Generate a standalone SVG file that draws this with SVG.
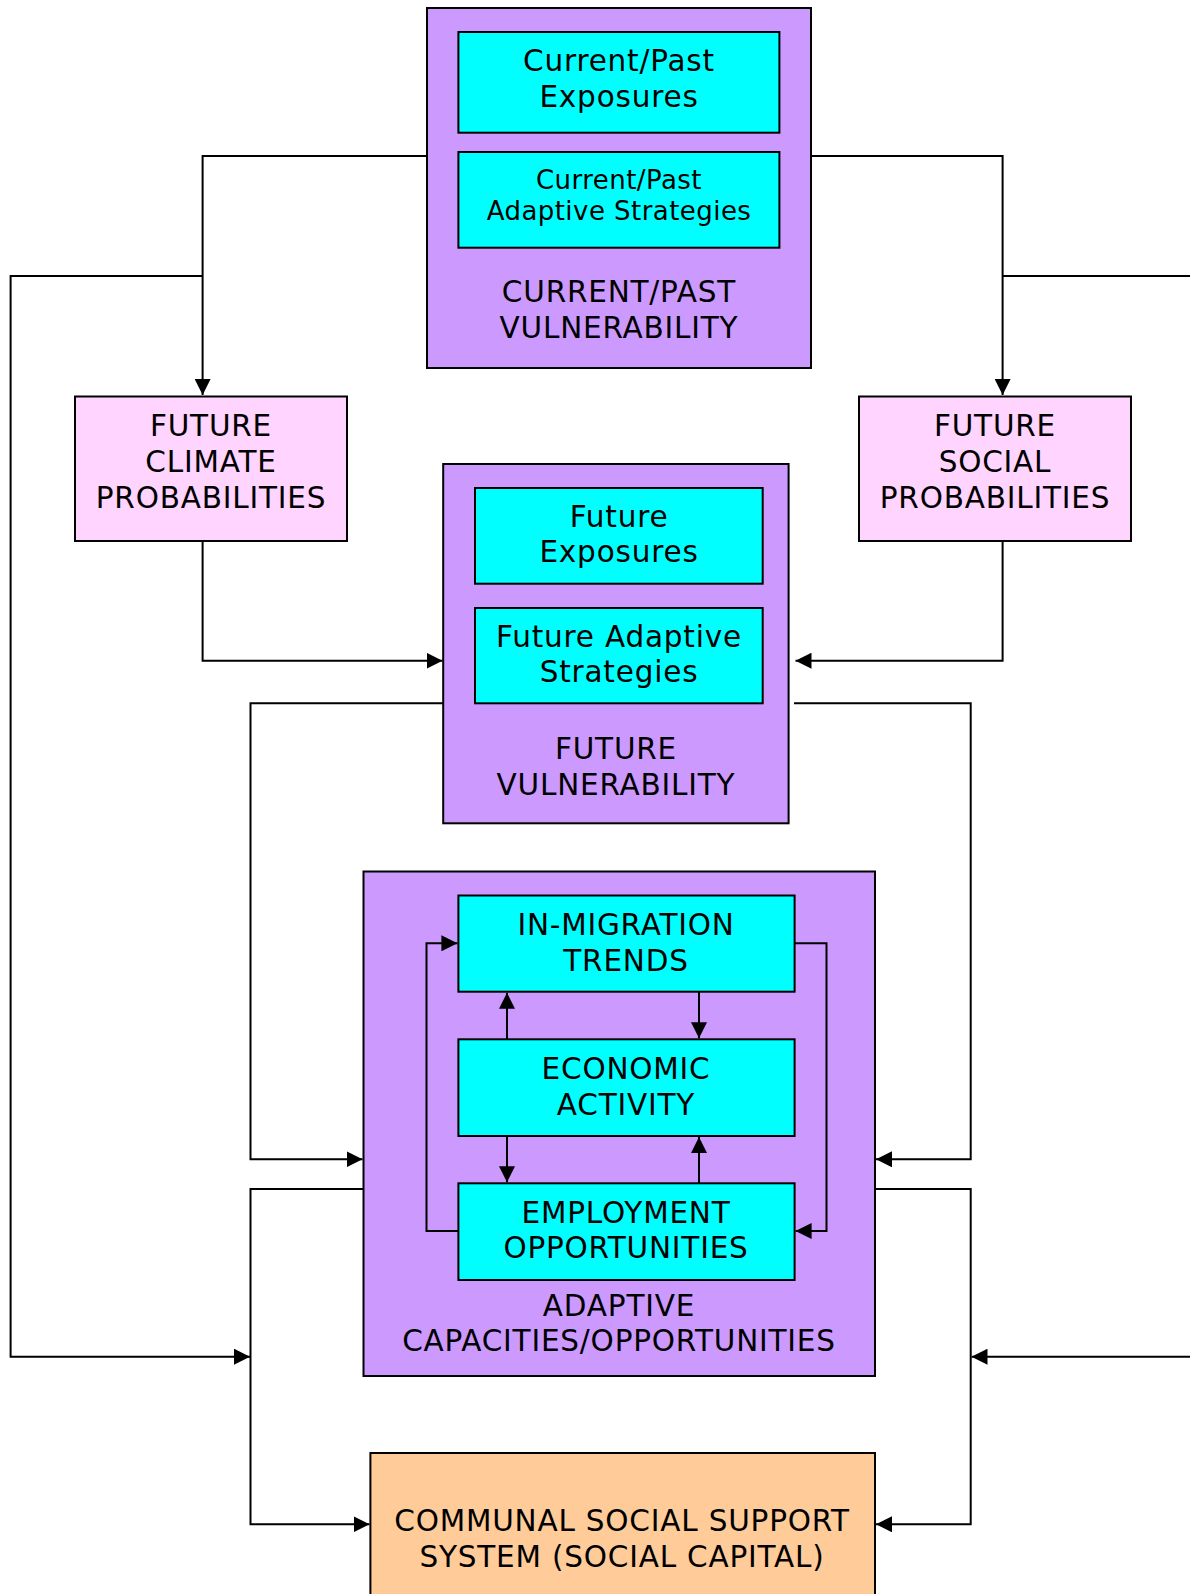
<svg xmlns="http://www.w3.org/2000/svg" width="1190" height="1594" viewBox="0 0 1190 1594">
<defs>
<style>
.box{stroke:#000;stroke-width:2}
.purple{fill:#CC99FF}
.cyan{fill:#00FFFF}
.pink{fill:#FFD4FF}
.orange{fill:#FFCC99}
text{font-family:"DejaVu Sans","Verdana",sans-serif;font-size:29.5px;fill:#000;text-anchor:middle;letter-spacing:0.8px}
text.s{font-size:26px;letter-spacing:0.45px}
.con path{fill:none;stroke:#000;stroke-width:2}
</style>
<marker id="ah" markerUnits="userSpaceOnUse" markerWidth="16" markerHeight="16" viewBox="0 0 15 15" refX="15" refY="7.5" orient="auto">
<path d="M0,0 L15,7.5 L0,15 z" fill="#000"/>
</marker>
</defs>
<rect width="1190" height="1594" fill="#fff"/>

<g id="connectors" class="con">
<path d="M427,156 H202.6 V395" marker-end="url(#ah)"/>
<path d="M202.6,276 H10.6 V1356.7 H250" marker-end="url(#ah)"/>
<path d="M811,156 H1002.6 V395" marker-end="url(#ah)"/>
<path d="M1002.6,276 H1196"/>
<path d="M1196,1356.7 H971.5" marker-end="url(#ah)"/>
<path d="M202.6,541 V660.7 H442.5" marker-end="url(#ah)"/>
<path d="M1002.6,541 V660.7 H795.5" marker-end="url(#ah)"/>
<path d="M443,703.3 H250.5 V1159.3 H362.5" marker-end="url(#ah)"/>
<path d="M794,703.3 H970.7 V1159.3 H876" marker-end="url(#ah)"/>
<path d="M363.5,1189 H250.5 V1524.3 H369.5" marker-end="url(#ah)"/>
<path d="M875,1189 H970.7 V1524.3 H876" marker-end="url(#ah)"/>
</g>

<g id="current-past-vulnerability">
<rect class="box purple" x="427" y="8" width="384" height="360"/>
<text x="619" y="302.3">CURRENT/PAST</text>
<text x="619" y="338.3">VULNERABILITY</text>
</g>
<g id="current-past-exposures">
<rect class="box cyan" x="458.4" y="32" width="321" height="100.7"/>
<text x="619" y="70.7">Current/Past</text>
<text x="619" y="106.7">Exposures</text>
</g>
<g id="current-past-adaptive-strategies">
<rect class="box cyan" x="458.4" y="152" width="321" height="95.7"/>
<text class="s" x="619" y="189.3">Current/Past</text>
<text class="s" x="619" y="220">Adaptive Strategies</text>
</g>

<g id="future-climate-probabilities">
<rect class="box pink" x="75" y="396.5" width="272" height="144.5"/>
<text x="211" y="435.7">FUTURE</text>
<text x="211" y="471.7">CLIMATE</text>
<text x="211" y="507.7">PROBABILITIES</text>
</g>
<g id="future-social-probabilities">
<rect class="box pink" x="859" y="396.5" width="272" height="144.5"/>
<text x="995" y="435.7">FUTURE</text>
<text x="995" y="471.7">SOCIAL</text>
<text x="995" y="507.7">PROBABILITIES</text>
</g>

<g id="future-vulnerability">
<rect class="box purple" x="443.2" y="464" width="345.4" height="359.3"/>
<text x="616" y="759.3">FUTURE</text>
<text x="616" y="795">VULNERABILITY</text>
</g>
<g id="future-exposures">
<rect class="box cyan" x="475" y="488" width="287.7" height="95.7"/>
<text x="619" y="526.7">Future</text>
<text x="619" y="561.7">Exposures</text>
</g>
<g id="future-adaptive-strategies">
<rect class="box cyan" x="475" y="608" width="287.7" height="95.3"/>
<text x="619" y="646.7">Future Adaptive</text>
<text x="619" y="681.7">Strategies</text>
</g>

<g id="adaptive-capacities">
<rect class="box purple" x="363.5" y="871.5" width="511.5" height="504.5"/>
<text x="619" y="1315.7">ADAPTIVE</text>
<text x="619" y="1351">CAPACITIES/OPPORTUNITIES</text>
</g>

<g id="inner-connectors" class="con">
<path d="M507,1039.3 V992.7" marker-end="url(#ah)"/>
<path d="M699,991.7 V1038.3" marker-end="url(#ah)"/>
<path d="M507,1136 V1182.3" marker-end="url(#ah)"/>
<path d="M699,1183.3 V1137" marker-end="url(#ah)"/>
<path d="M458.4,1231 H426.5 V943.3 H457.4" marker-end="url(#ah)"/>
<path d="M794.6,943.3 H826.5 V1231 H795.6" marker-end="url(#ah)"/>
</g>

<g id="in-migration-trends">
<rect class="box cyan" x="458.4" y="895.5" width="336.2" height="96.2"/>
<text x="626" y="935">IN-MIGRATION</text>
<text x="626" y="970.7">TRENDS</text>
</g>
<g id="economic-activity">
<rect class="box cyan" x="458.4" y="1039.3" width="336.2" height="96.7"/>
<text x="626" y="1079">ECONOMIC</text>
<text x="626" y="1115">ACTIVITY</text>
</g>
<g id="employment-opportunities">
<rect class="box cyan" x="458.4" y="1183.3" width="336.2" height="96.7"/>
<text x="626" y="1222.7">EMPLOYMENT</text>
<text x="626" y="1258.3">OPPORTUNITIES</text>
</g>

<g id="communal-social-support">
<rect class="box orange" x="370.4" y="1453" width="504.6" height="160"/>
<text x="622" y="1531">COMMUNAL SOCIAL SUPPORT</text>
<text x="622" y="1566.7">SYSTEM (SOCIAL CAPITAL)</text>
</g>
</svg>
